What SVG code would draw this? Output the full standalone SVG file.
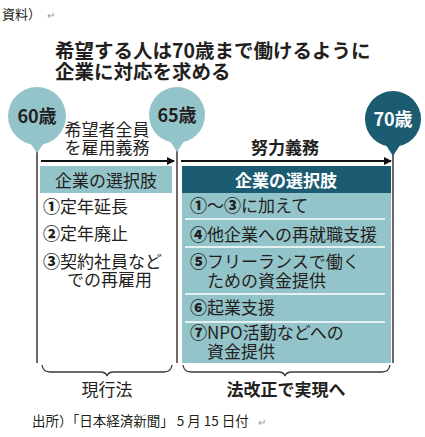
<svg xmlns="http://www.w3.org/2000/svg" width="425" height="437" viewBox="0 0 425 437">
<style>
text{font-family:"Noto Sans CJK JP","Noto Sans",sans-serif;fill:#231f20}
.t{font-size:19.5px;font-weight:700}
.c{font-size:18px;font-weight:700;text-anchor:middle}
.lbl{font-size:17px;text-anchor:middle}
.b{font-weight:700}
.it{font-size:17px}
.n{font-weight:900}
.vl{stroke:#4a4242;stroke-width:1.6;fill:none}
.ar{stroke:#111;stroke-width:2.2;fill:none}
.br{stroke:#3a3a3a;stroke-width:1.3;fill:none}
.sep{stroke:#fff;stroke-width:1.5}
.lt{fill:#93c4ca}
.dk{fill:#1b5c72}
.pm{font-size:10px;fill:#999}
.src{font-size:13.5px}
</style>
<defs>
<marker id="ah" markerWidth="8" markerHeight="8" refX="7" refY="4" orient="auto" markerUnits="userSpaceOnUse">
<path d="M0,0 L8,4 L0,8 z" fill="#111"/>
</marker>
</defs>
<rect width="425" height="437" fill="#fff"/>
<g id="header-note"><text x="2" y="19" style="font-size:13px">資料）</text><text x="47" y="19" class="pm">↵</text></g>
<g id="title">
<text class="t" x="55" y="58">希望する人は70歳まで働けるように</text>
<text class="t" x="55" y="79">企業に対応を求める</text>
</g>
<g id="connectors">
<line class="vl" x1="37" y1="150" x2="37" y2="363"/>
<line class="vl" x1="177" y1="150" x2="177" y2="363"/>
<line class="vl" x1="393" y1="153" x2="393" y2="363"/>
<line class="ar" x1="41" y1="161" x2="174" y2="161" marker-end="url(#ah)"/>
<line class="ar" x1="181" y1="161" x2="391" y2="161" marker-end="url(#ah)"/>
<path class="br" d="M42,365 Q43,372 50,372 L100,372 Q106,372 107,376 Q108,372 114,372 L164,372 Q171,372 172,365"/>
<path class="br" d="M183,365 Q184,372 191,372 L278,372 Q284,372 285,376 Q286,372 292,372 L382,372 Q389,372 390,365"/>
</g>
<g id="pin-60">
<circle class="lt" cx="37" cy="116" r="29"/>
<path class="lt" d="M28,140 L46,140 L37,153 z"/>
<text class="c" x="37" y="123">60歳</text>
</g>
<g id="pin-65">
<circle class="lt" cx="177" cy="115" r="28"/>
<path class="lt" d="M168,138 L186,138 L177,152 z"/>
<text class="c" x="177" y="122">65歳</text>
</g>
<g id="pin-70">
<circle class="dk" cx="393" cy="119" r="28"/>
<path class="dk" d="M384,142 L402,142 L393,156 z"/>
<text class="c" x="393" y="126" style="fill:#fff">70歳</text>
</g>
<g id="label-obligation">
<text class="lbl" x="107" y="136">希望者全員</text>
<text class="lbl" x="107" y="154">を雇用義務</text>
</g>
<g id="label-effort">
<text class="lbl b" x="285" y="154">努力義務</text>
</g>
<g id="current-box">
<rect class="lt" x="40" y="166" width="132" height="27"/>
<text class="lbl" x="106" y="187">企業の選択肢</text>
<text class="it" x="43" y="213"><tspan class="n">①</tspan>定年延長</text>
<text class="it" x="43" y="240"><tspan class="n">②</tspan>定年廃止</text>
<text class="it" x="43" y="268"><tspan class="n">③</tspan>契約社員など</text>
<text class="it" x="67" y="286">での再雇用</text>
</g>
<g id="new-box">
<rect class="lt" x="182" y="193" width="209" height="170"/>
<rect class="dk" x="182" y="166" width="209" height="27"/>
<text class="lbl b" x="286" y="187" style="fill:#fff">企業の選択肢</text>
<line class="sep" x1="185" y1="219" x2="385" y2="219"/>
<line class="sep" x1="185" y1="247" x2="385" y2="247"/>
<line class="sep" x1="185" y1="294" x2="385" y2="294"/>
<line class="sep" x1="185" y1="322" x2="385" y2="322"/>
<text class="it" x="190" y="212"><tspan class="n">①</tspan>〜<tspan class="n">③</tspan>に加えて</text>
<text class="it" x="190" y="241"><tspan class="n">④</tspan>他企業への再就職支援</text>
<text class="it" x="190" y="268"><tspan class="n">⑤</tspan>フリーランスで働く</text>
<text class="it" x="207" y="287">ための資金提供</text>
<text class="it" x="190" y="314"><tspan class="n">⑥</tspan>起業支援</text>
<text class="it" x="190" y="339"><tspan class="n">⑦</tspan>NPO活動などへの</text>
<text class="it" x="207" y="358">資金提供</text>
</g>
<g id="label-current-law"><text class="lbl" x="107" y="396">現行法</text></g>
<g id="label-revision"><text class="lbl b" x="286" y="396">法改正で実現へ</text></g>
<g id="source"><text class="src" x="32" y="426">出所）「日本経済新聞」 5 月 15 日付</text><text class="pm" x="258" y="426">↵</text></g>
</svg>
